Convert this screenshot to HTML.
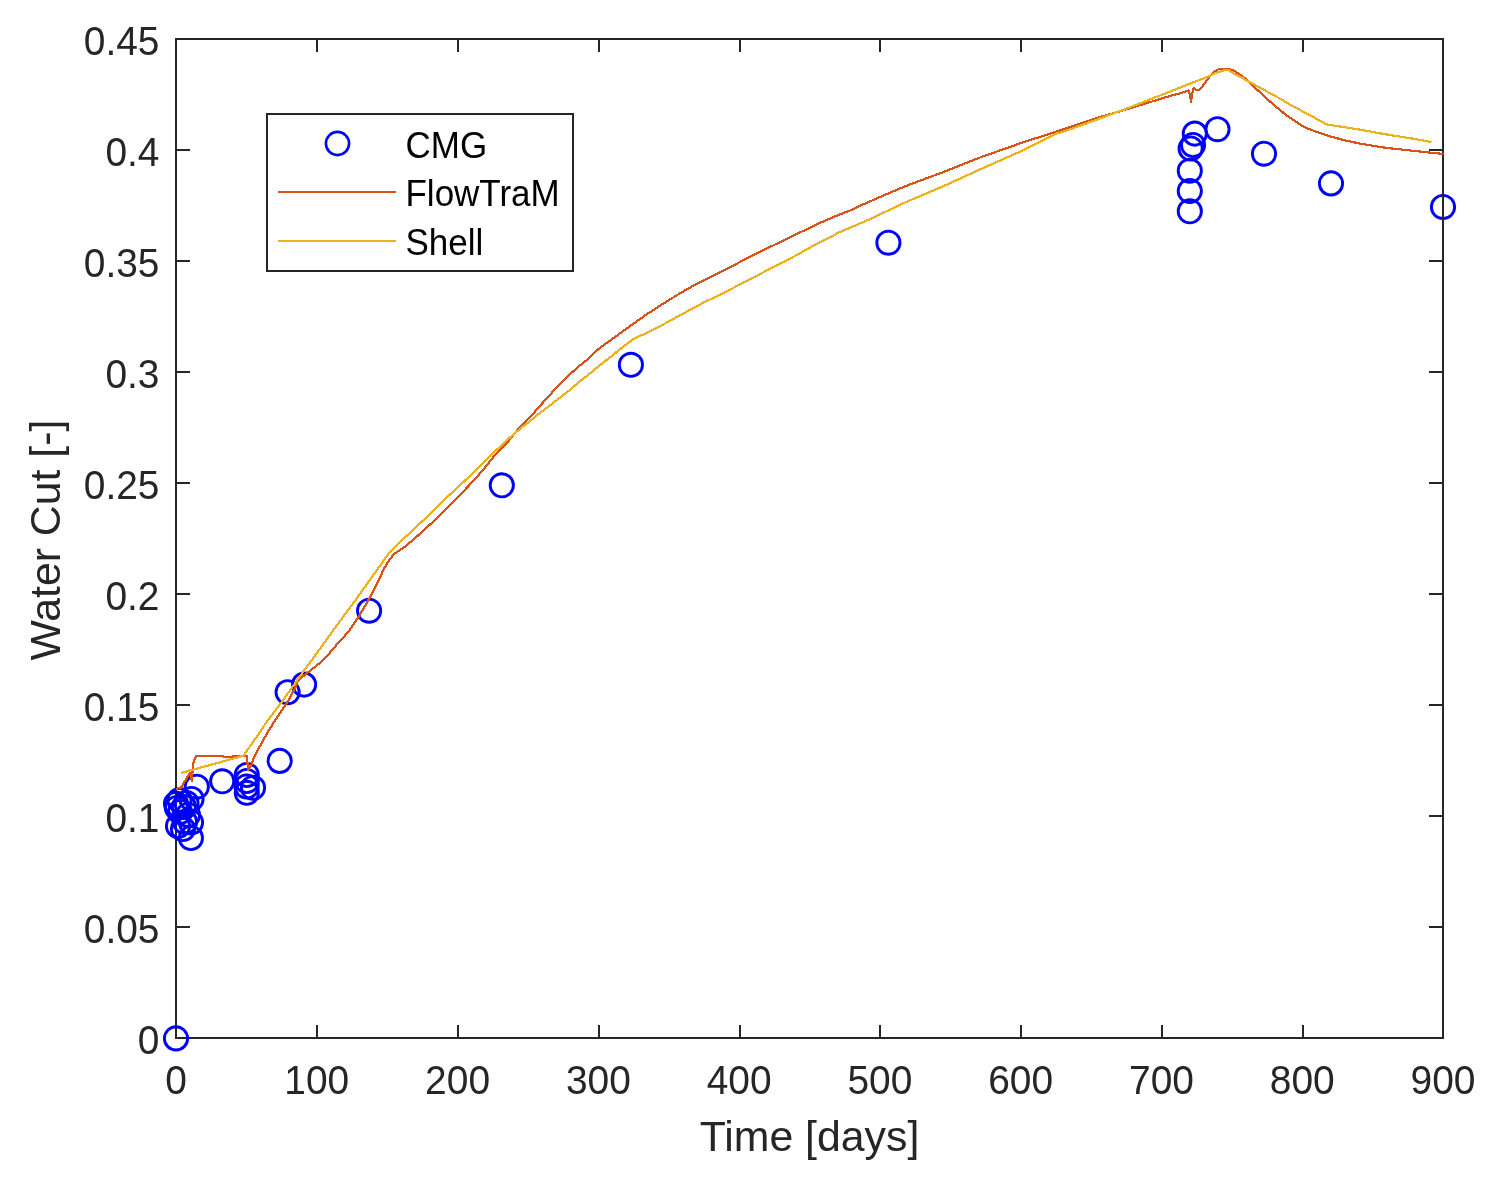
<!DOCTYPE html>
<html><head><meta charset="utf-8"><title>Water Cut</title><style>html,body{margin:0;padding:0;background:#fff;overflow:hidden;}svg{display:block;}</style></head><body>
<svg width="1500" height="1185" viewBox="0 0 1500 1185">
<rect width="1500" height="1185" fill="#fff"/>
<g stroke="#262626" stroke-width="2" fill="none" shape-rendering="crispEdges">
<path d="M176.0 38.0V1038.0H1444.0"/>
<path d="M176.00 1038.0v-13M176.00 39.0v13"/>
<path d="M317.00 1038.0v-13M317.00 39.0v13"/>
<path d="M458.00 1038.0v-13M458.00 39.0v13"/>
<path d="M599.00 1038.0v-13M599.00 39.0v13"/>
<path d="M740.00 1038.0v-13M740.00 39.0v13"/>
<path d="M880.00 1038.0v-13M880.00 39.0v13"/>
<path d="M1021.00 1038.0v-13M1021.00 39.0v13"/>
<path d="M1162.00 1038.0v-13M1162.00 39.0v13"/>
<path d="M1303.00 1038.0v-13M1303.00 39.0v13"/>
<path d="M1443.00 1038.0v-13M1443.00 39.0v13"/>
<path d="M176.0 1038.00h14M1443.0 1038.00h-14"/>
<path d="M176.0 927.00h14M1443.0 927.00h-14"/>
<path d="M176.0 816.00h14M1443.0 816.00h-14"/>
<path d="M176.0 705.00h14M1443.0 705.00h-14"/>
<path d="M176.0 594.00h14M1443.0 594.00h-14"/>
<path d="M176.0 483.00h14M1443.0 483.00h-14"/>
<path d="M176.0 372.00h14M1443.0 372.00h-14"/>
<path d="M176.0 261.00h14M1443.0 261.00h-14"/>
<path d="M176.0 150.00h14M1443.0 150.00h-14"/>
<path d="M176.0 39.00h14M1443.0 39.00h-14"/>
</g>
<circle cx="176.0" cy="1038.4" r="11.6" fill="none" stroke="#00f" stroke-width="2.9"/>
<circle cx="176.0" cy="803.8" r="11.6" fill="none" stroke="#00f" stroke-width="2.9"/>
<circle cx="177.0" cy="808.0" r="11.6" fill="none" stroke="#00f" stroke-width="2.9"/>
<circle cx="178.0" cy="826.0" r="11.6" fill="none" stroke="#00f" stroke-width="2.9"/>
<circle cx="183.0" cy="829.0" r="11.6" fill="none" stroke="#00f" stroke-width="2.9"/>
<circle cx="186.5" cy="803.0" r="11.6" fill="none" stroke="#00f" stroke-width="2.9"/>
<circle cx="190.9" cy="838.0" r="11.6" fill="none" stroke="#00f" stroke-width="2.9"/>
<circle cx="191.0" cy="822.5" r="11.6" fill="none" stroke="#00f" stroke-width="2.9"/>
<circle cx="191.5" cy="799.0" r="11.6" fill="none" stroke="#00f" stroke-width="2.9"/>
<circle cx="196.8" cy="786.7" r="11.6" fill="none" stroke="#00f" stroke-width="2.9"/>
<circle cx="180.0" cy="812.0" r="11.6" fill="none" stroke="#00f" stroke-width="2.9"/>
<circle cx="184.0" cy="807.0" r="11.6" fill="none" stroke="#00f" stroke-width="2.9"/>
<circle cx="188.0" cy="815.0" r="11.6" fill="none" stroke="#00f" stroke-width="2.9"/>
<circle cx="179.5" cy="800.0" r="11.6" fill="none" stroke="#00f" stroke-width="2.9"/>
<circle cx="185.0" cy="822.0" r="11.6" fill="none" stroke="#00f" stroke-width="2.9"/>
<circle cx="222.2" cy="781.3" r="11.6" fill="none" stroke="#00f" stroke-width="2.9"/>
<circle cx="246.8" cy="775.0" r="11.6" fill="none" stroke="#00f" stroke-width="2.9"/>
<circle cx="246.8" cy="781.0" r="11.6" fill="none" stroke="#00f" stroke-width="2.9"/>
<circle cx="246.6" cy="786.5" r="11.6" fill="none" stroke="#00f" stroke-width="2.9"/>
<circle cx="253.0" cy="787.8" r="11.6" fill="none" stroke="#00f" stroke-width="2.9"/>
<circle cx="246.8" cy="792.8" r="11.6" fill="none" stroke="#00f" stroke-width="2.9"/>
<circle cx="279.7" cy="760.9" r="11.6" fill="none" stroke="#00f" stroke-width="2.9"/>
<circle cx="287.6" cy="692.2" r="11.6" fill="none" stroke="#00f" stroke-width="2.9"/>
<circle cx="304.1" cy="684.6" r="11.6" fill="none" stroke="#00f" stroke-width="2.9"/>
<circle cx="369.1" cy="610.7" r="11.6" fill="none" stroke="#00f" stroke-width="2.9"/>
<circle cx="501.8" cy="485.3" r="11.6" fill="none" stroke="#00f" stroke-width="2.9"/>
<circle cx="630.9" cy="364.8" r="11.6" fill="none" stroke="#00f" stroke-width="2.9"/>
<circle cx="888.4" cy="242.7" r="11.6" fill="none" stroke="#00f" stroke-width="2.9"/>
<circle cx="1189.8" cy="211.3" r="11.6" fill="none" stroke="#00f" stroke-width="2.9"/>
<circle cx="1189.8" cy="191.0" r="11.6" fill="none" stroke="#00f" stroke-width="2.9"/>
<circle cx="1189.8" cy="170.8" r="11.6" fill="none" stroke="#00f" stroke-width="2.9"/>
<circle cx="1190.6" cy="148.5" r="11.6" fill="none" stroke="#00f" stroke-width="2.9"/>
<circle cx="1193.0" cy="145.0" r="11.6" fill="none" stroke="#00f" stroke-width="2.9"/>
<circle cx="1194.8" cy="133.6" r="11.6" fill="none" stroke="#00f" stroke-width="2.9"/>
<circle cx="1217.5" cy="129.2" r="11.6" fill="none" stroke="#00f" stroke-width="2.9"/>
<circle cx="1264.0" cy="153.7" r="11.6" fill="none" stroke="#00f" stroke-width="2.9"/>
<circle cx="1331.0" cy="183.4" r="11.6" fill="none" stroke="#00f" stroke-width="2.9"/>
<circle cx="1443.0" cy="207.0" r="11.6" fill="none" stroke="#00f" stroke-width="2.9"/>
<path d="M175.0 39.0H1443.0V1039.0" stroke="#262626" stroke-width="2" fill="none" shape-rendering="crispEdges"/>
<polyline points="176.2,788.9 181.0,787.7 190.0,772.7 191.8,781.1 193.0,764.0 196.0,755.9 223.3,755.9 223.6,757.1 233.2,757.1 233.5,755.7 247.0,755.7 247.9,770.0 251.2,765.2 253.1,759.7 260.2,745.6 268.8,730.4 277.4,716.7 283.5,707.6 288.0,701.0 294.6,689.2 297.2,682.2 300.7,678.1 307.3,673.0 320.4,662.4 328.0,654.8 340.7,640.1 345.0,635.6 350.2,629.2 358.8,616.6 369.4,598.4 376.5,584.7 379.1,579.2 384.1,568.6 389.2,560.0 393.7,554.4 397.8,551.4 405.4,546.3 414.5,538.7 427.7,526.6 435.0,520.0 450.3,504.5 462.4,492.3 474.6,479.7 486.7,465.5 495.2,454.6 508.4,441.4 519.5,427.2 531.0,416.0 545.2,400.0 560.4,383.3 575.6,369.1 586.7,360.0 600.2,347.5 615.4,336.8 630.6,325.7 644.7,315.6 657.7,307.2 675.4,296.0 693.2,285.7 705.0,280.0 720.0,272.4 750.4,256.6 795.0,234.7 806.0,229.7 822.0,222.0 838.0,215.1 851.3,210.0 865.5,203.3 905.0,186.3 944.5,171.6 980.0,157.5 1019.5,143.6 1041.7,136.3 1068.3,127.7 1094.5,118.7 1130.0,108.3 1169.5,96.1 1180.7,93.1 1188.9,90.5 1189.7,94.5 1191.1,101.9 1191.9,94.5 1193.5,88.1 1196.1,89.7 1199.1,89.9 1204.1,84.3 1207.9,79.0 1211.6,74.2 1216.4,70.2 1220.1,68.6 1228.7,68.6 1233.5,70.5 1239.3,74.2 1245.5,78.8 1252.6,85.6 1262.7,94.7 1270.3,101.8 1277.9,108.4 1285.5,114.5 1295.6,121.6 1304.7,127.2 1315.2,131.4 1330.4,136.5 1345.6,140.5 1359.7,143.5 1385.0,147.7 1415.0,151.0 1443.5,154.0" fill="none" stroke="#D95319" stroke-width="2.2" stroke-linejoin="round" shape-rendering="crispEdges"/>
<polyline points="181.3,772.9 243.1,755.9 245.5,752.7 257.7,735.4 265.3,723.8 282.5,701.0 291.1,689.0 303.7,671.0 316.4,653.8 329.1,636.1 335.5,627.2 355.3,600.4 376.0,571.5 388.3,554.0 396.8,544.8 413.0,530.1 423.6,520.0 430.5,513.6 445.2,498.9 460.9,484.5 480.6,465.5 492.7,453.5 512.9,434.8 522.0,427.2 530.6,420.6 539.7,413.0 550.3,405.1 568.0,391.4 580.6,380.8 589.7,373.7 595.1,369.2 610.3,357.1 625.5,344.9 634.0,338.6 644.7,333.8 663.6,324.3 687.3,311.3 705.0,301.9 720.0,294.8 750.4,279.0 795.0,256.0 811.3,246.8 830.0,237.2 838.0,232.9 854.0,226.0 870.0,219.1 905.0,202.5 944.5,185.7 980.0,169.5 1019.5,151.9 1041.7,141.1 1055.0,134.1 1068.3,129.9 1081.7,125.1 1092.0,121.4 1130.0,107.3 1169.5,91.8 1180.7,87.3 1191.3,83.0 1202.0,79.0 1207.3,76.9 1212.7,74.2 1220.7,71.5 1226.0,69.9 1228.7,70.2 1234.0,73.7 1242.0,77.9 1245.5,79.8 1260.2,87.9 1275.4,96.0 1290.6,104.9 1304.7,112.5 1312.7,116.7 1326.3,124.3 1340.5,126.6 1359.7,129.6 1385.0,134.2 1415.0,139.0 1431.5,142.0" fill="none" stroke="#EDB120" stroke-width="2.2" stroke-linejoin="round" shape-rendering="crispEdges"/>
<g font-family="'Liberation Sans', Arial, Helvetica, sans-serif" fill="#262626" font-size="38.9">
<text transform="translate(176.00 1093.5) scale(1 1.04)" text-anchor="middle">0</text>
<text transform="translate(316.78 1093.5) scale(1 1.04)" text-anchor="middle">100</text>
<text transform="translate(457.56 1093.5) scale(1 1.04)" text-anchor="middle">200</text>
<text transform="translate(598.33 1093.5) scale(1 1.04)" text-anchor="middle">300</text>
<text transform="translate(739.11 1093.5) scale(1 1.04)" text-anchor="middle">400</text>
<text transform="translate(879.89 1093.5) scale(1 1.04)" text-anchor="middle">500</text>
<text transform="translate(1020.67 1093.5) scale(1 1.04)" text-anchor="middle">600</text>
<text transform="translate(1161.44 1093.5) scale(1 1.04)" text-anchor="middle">700</text>
<text transform="translate(1302.22 1093.5) scale(1 1.04)" text-anchor="middle">800</text>
<text transform="translate(1443.00 1093.5) scale(1 1.04)" text-anchor="middle">900</text>
<text transform="translate(159.5 1053.50) scale(1 1.04)" text-anchor="end">0</text>
<text transform="translate(159.5 942.50) scale(1 1.04)" text-anchor="end">0.05</text>
<text transform="translate(159.5 831.50) scale(1 1.04)" text-anchor="end">0.1</text>
<text transform="translate(159.5 720.50) scale(1 1.04)" text-anchor="end">0.15</text>
<text transform="translate(159.5 609.50) scale(1 1.04)" text-anchor="end">0.2</text>
<text transform="translate(159.5 498.50) scale(1 1.04)" text-anchor="end">0.25</text>
<text transform="translate(159.5 387.50) scale(1 1.04)" text-anchor="end">0.3</text>
<text transform="translate(159.5 276.50) scale(1 1.04)" text-anchor="end">0.35</text>
<text transform="translate(159.5 165.50) scale(1 1.04)" text-anchor="end">0.4</text>
<text transform="translate(159.5 54.50) scale(1 1.04)" text-anchor="end">0.45</text>
<text x="809.5" y="1150.8" text-anchor="middle" font-size="42.8">Time [days]</text>
<text transform="translate(59.9 540.1) rotate(-90)" text-anchor="middle" font-size="42.8">Water Cut [-]</text>
</g>
<rect x="267" y="114" width="306" height="157" fill="#fff" stroke="#262626" stroke-width="2"/>
<circle cx="337.5" cy="143.5" r="11.6" fill="none" stroke="#00f" stroke-width="2.6"/>
<path d="M278 192H396" stroke="#D95319" stroke-width="2"/>
<path d="M278 241H396" stroke="#EDB120" stroke-width="2"/>
<g font-family="'Liberation Sans', Arial, Helvetica, sans-serif" font-size="35" fill="#000">
<text transform="translate(405.5 157.8) scale(1 1.04)">CMG</text>
<text transform="translate(405.5 206.2) scale(1 1.04)">FlowTraM</text>
<text transform="translate(405.5 254.6) scale(1 1.04)">Shell</text>
</g>
</svg>
</body></html>
